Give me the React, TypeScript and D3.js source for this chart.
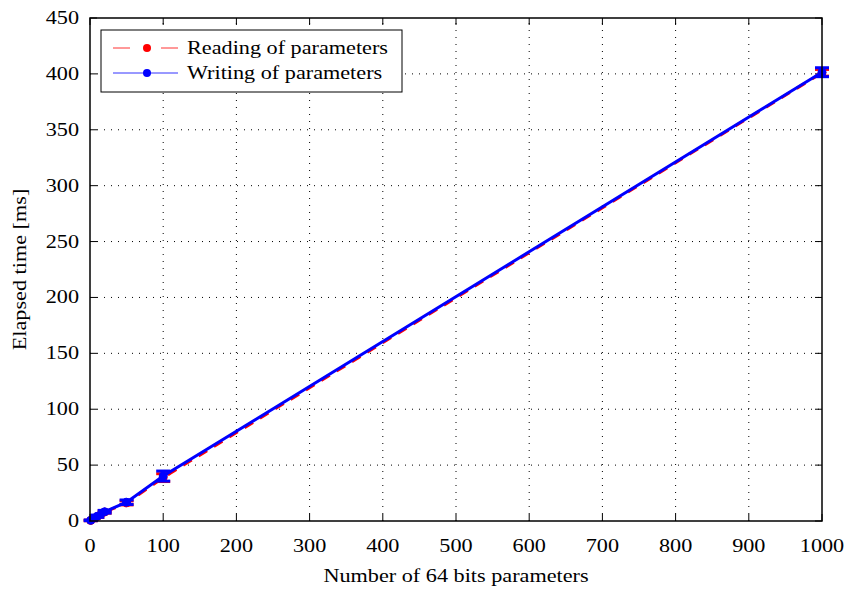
import React from "react";
import * as d3 from "d3";

// Number of 64-bit parameters transferred
const paramCounts = [1, 10, 20, 50, 100, 1000];
// Mean elapsed times [ms]
const readingTimes = [0.5, 4.0, 8.0, 16.2, 38.8, 401.0];
const writingTimes = [0.6, 4.3, 8.3, 16.8, 40.2, 401.5];
// Standard deviations [ms]
const readingErr = [0.3, 0.8, 1.0, 1.8, 3.5, 3.0];
const writingErr = [0.3, 1.0, 1.2, 2.0, 4.5, 4.0];

const xTicks = [0, 100, 200, 300, 400, 500, 600, 700, 800, 900, 1000];
const yTicks = [0, 50, 100, 150, 200, 250, 300, 350, 400, 450];

const legendLabels = ["Reading of parameters", "Writing of parameters"];

const W = 850;
const H = 589;
const margin = { left: 90, right: 28, top: 18, bottom: 68 };
const FONT = "'Liberation Serif', 'Times New Roman', serif";
const FS = 19;
const SX = 1.17;

function Label(props: {
  x: number;
  y: number;
  anchor?: "start" | "middle" | "end";
  rotate?: number;
  children: React.ReactNode;
}) {
  const rot = props.rotate ? ` rotate(${props.rotate})` : "";
  return (
    <text
      transform={`translate(${props.x},${props.y})${rot} scale(${SX},1)`}
      textAnchor={props.anchor || "start"}
      fontFamily={FONT}
      fontSize={FS}
      fill="#000"
    >
      {props.children}
    </text>
  );
}

export default function App() {
  const x = d3.scaleLinear().domain([0, 1000]).range([margin.left, W - margin.right]);
  const y = d3.scaleLinear().domain([0, 450]).range([H - margin.bottom, margin.top]);
  const x0 = x(0), x1 = x(1000), y0 = y(0), y1 = y(450);

  const line = d3
    .line<number>()
    .x((_, i) => x(paramCounts[i]))
    .y((d) => y(d));

  const series = [
    { vals: readingTimes, err: readingErr, color: "#ff0000", dash: "10,8" },
    { vals: writingTimes, err: writingErr, color: "#0000ff", dash: "none" },
  ];

  const tickLen = 7;
  const cap = 7;

  return (
    <svg width={W} height={H} style={{ position: "absolute", left: 0, top: 0, background: "#fff" }}>
      <rect x={0} y={0} width={W} height={H} fill="#fff" />
      {/* grid */}
      <g stroke="#000" strokeWidth={1} strokeDasharray="1,6">
        {xTicks.slice(1, -1).map((t) => (
          <line key={"gx" + t} x1={x(t)} x2={x(t)} y1={y0} y2={y1} />
        ))}
        {yTicks.slice(1, -1).map((t) => (
          <line key={"gy" + t} x1={x0} x2={x1} y1={y(t)} y2={y(t)} />
        ))}
      </g>
      {/* ticks */}
      <g stroke="#000" strokeWidth={1}>
        {xTicks.map((t) => (
          <g key={"tx" + t}>
            <line x1={x(t)} x2={x(t)} y1={y0} y2={y0 - tickLen} />
            <line x1={x(t)} x2={x(t)} y1={y1} y2={y1 + tickLen} />
          </g>
        ))}
        {yTicks.map((t) => (
          <g key={"ty" + t}>
            <line x1={x0} x2={x0 + tickLen} y1={y(t)} y2={y(t)} />
            <line x1={x1} x2={x1 - tickLen} y1={y(t)} y2={y(t)} />
          </g>
        ))}
      </g>
      {/* series */}
      {series.map((s, si) => (
        <g key={"s" + si}>
          <path d={line(s.vals) || ""} fill="none" stroke={s.color} strokeWidth={3} strokeDasharray={s.dash} />
          {s.vals.map((v, i) => {
            const cx = x(paramCounts[i]);
            return (
              <g key={i} stroke={s.color} strokeWidth={3}>
                <line x1={cx} x2={cx} y1={y(v - s.err[i])} y2={y(v + s.err[i])} />
                <line x1={cx - cap} x2={cx + cap} y1={y(v - s.err[i])} y2={y(v - s.err[i])} />
                <line x1={cx - cap} x2={cx + cap} y1={y(v + s.err[i])} y2={y(v + s.err[i])} />
                <circle cx={cx} cy={y(v)} r={4} fill={s.color} strokeWidth={1} />
              </g>
            );
          })}
        </g>
      ))}
      {/* frame */}
      <rect x={x0} y={y1} width={x1 - x0} height={y0 - y1} fill="none" stroke="#000" strokeWidth={1.5} />
      {/* tick labels */}
      {xTicks.map((t) => (
        <Label key={"lx" + t} x={x(t)} y={y0 + 31} anchor="middle">
          {t}
        </Label>
      ))}
      {yTicks.map((t) => (
        <Label key={"ly" + t} x={x0 - 11} y={y(t) + 6} anchor="end">
          {t}
        </Label>
      ))}
      <Label x={(x0 + x1) / 2} y={582} anchor="middle">
        Number of 64 bits parameters
      </Label>
      <Label x={26} y={(y0 + y1) / 2} anchor="middle" rotate={-90}>
        Elapsed time [ms]
      </Label>
      {/* legend */}
      <g>
        <rect x={101} y={30} width={301} height={62} fill="#fff" stroke="#000" strokeWidth={1} />
        {series.map((s, i) => {
          const ly = 48 + i * 25;
          return (
            <g key={"lg" + i}>
              <line
                x1={113}
                x2={178}
                y1={ly}
                y2={ly}
                stroke={s.color}
                strokeWidth={1}
                strokeDasharray={s.dash === "none" ? "none" : "17,31"}
                opacity={0.8}
              />
              <circle cx={147} cy={ly} r={4} fill={s.color} />
              <Label x={187} y={ly + 6}>
                {legendLabels[i]}
              </Label>
            </g>
          );
        })}
      </g>
    </svg>
  );
}
